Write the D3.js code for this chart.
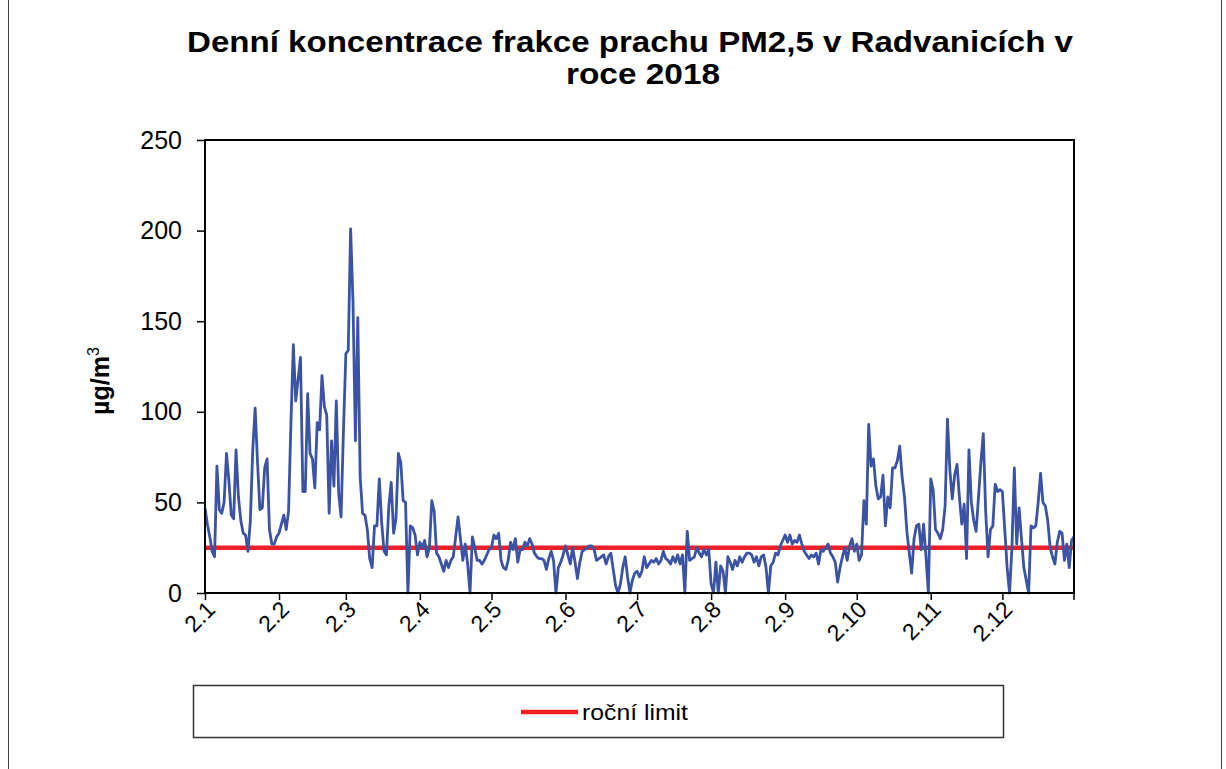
<!DOCTYPE html>
<html>
<head>
<meta charset="utf-8">
<script src="https://cdn.jsdelivr.net/npm/d3@7"></script>
<style>
  body { margin: 0; background: #fff; }
  svg { display: block; }
  text { font-family: "Liberation Sans", Arial, sans-serif; fill: #000; }
</style>
</head>
<body>
<div id="chart"></div>
<script>
// Denní hodnoty PM2,5 (µg/m3) po měsících
const jan = [47, 38, 31, 23, 20, 70, 46, 44, 50, 77, 62, 43, 41, 79, 53, 40, 33, 32, 23, 40, 79, 102, 72, 46, 47, 69, 74, 35, 27, 27, 31];
const feb = [33, 38, 43, 35, 45, 94, 137, 106, 118, 130, 56, 56, 110, 77, 74, 58, 94, 90, 120, 103, 98, 44, 84, 59, 106, 55, 42, 90];
const mar = [132, 134, 201, 160, 84, 152, 64, 44, 43, 35, 19, 14, 37, 37, 63, 39, 23, 21, 48, 61, 33, 41, 77, 72, 51, 50, 0, 37, 36, 32, 21];
const apr = [28, 25, 29, 20, 25, 51, 45, 22, 20, 16, 12, 18, 14, 18, 20, 31, 42, 30, 18, 27, 16, 0, 31, 25, 18, 18, 16, 18, 21, 24];
const may = [25, 32, 30, 33, 18, 14, 13, 18, 28, 24, 30, 17, 24, 24, 28, 26, 30, 27, 22, 20, 19, 19, 18, 13, 19, 23, 18, 0, 14, 17, 21];
const jun = [26, 21, 16, 25, 17, 8, 17, 23, 24, 25, 26, 26, 24, 18, 19, 20, 21, 16, 20, 22, 13, 4, 0, 5, 14, 20, 9, 0, 7, 11];
const jul = [12, 9, 12, 20, 14, 16, 18, 17, 19, 16, 18, 23, 19, 18, 16, 20, 17, 21, 16, 21, 0, 34, 18, 19, 20, 25, 22, 20, 24, 21, 24];
const aug = [5, 0, 17, 0, 15, 12, 0, 20, 17, 13, 18, 15, 20, 17, 20, 22, 22, 21, 17, 20, 15, 20, 21, 14, 0, 15, 17, 22, 21, 26, 29];
const sep = [32, 28, 32, 27, 29, 28, 32, 27, 23, 21, 19, 21, 20, 22, 16, 24, 23, 25, 27, 22, 20, 17, 6, 14, 20, 25, 18, 26, 30, 23];
const oct = [27, 18, 21, 51, 38, 93, 70, 74, 59, 52, 53, 65, 37, 53, 47, 69, 69, 73, 81, 64, 53, 34, 22, 11, 30, 37, 38, 24, 38, 20, 0];
const nov = [63, 57, 35, 33, 30, 35, 48, 96, 68, 52, 65, 71, 53, 38, 49, 19, 79, 50, 40, 34, 53, 72, 88, 45, 20, 35, 37, 60, 56, 57];
const dec = [56, 35, 14, 0, 25, 69, 27, 47, 30, 14, 7, 0, 37, 36, 37, 50, 66, 50, 48, 40, 25, 20, 16, 28, 34, 33, 18, 27, 14, 29, 31];

const monthLabels = ['2.1', '2.2', '2.3', '2.4', '2.5', '2.6', '2.7', '2.8', '2.9', '2.10', '2.11', '2.12'];
const yTicks = [0, 50, 100, 150, 200, 250];
const limitValue = 25;
const titleLines = ['Denní koncentrace frakce prachu PM2,5 v Radvanicích v', 'roce 2018'];
const legendLabel = 'roční limit';

const months = [jan, feb, mar, apr, may, jun, jul, aug, sep, oct, nov, dec];
const values = months.flat();

// začátky měsíců (index dne)
const monthStarts = [];
let acc = 0;
months.forEach(m => { monthStarts.push(acc); acc += m.length; });

const W = 1226, H = 769;
const plot = { left: 205, right: 1074, top: 140, bottom: 593 };

const svg = d3.select('#chart').append('svg')
    .attr('width', W)
    .attr('height', H);

// vnější rámeček
svg.append('line').attr('x1', 8.5).attr('x2', 8.5).attr('y1', 0).attr('y2', H)
    .attr('stroke', '#444').attr('stroke-width', 1);
svg.append('line').attr('x1', 1221.5).attr('x2', 1221.5).attr('y1', 0).attr('y2', H)
    .attr('stroke', '#444').attr('stroke-width', 1);

// titulek (v originále je písmo vodorovně roztažené)
svg.append('text')
    .attr('x', 187).attr('y', 52)
    .attr('textLength', 886)
    .attr('lengthAdjust', 'spacingAndGlyphs')
    .style('font-size', '29px').style('font-weight', 'bold')
    .text(titleLines[0]);
svg.append('text')
    .attr('x', 566).attr('y', 84)
    .attr('textLength', 154)
    .attr('lengthAdjust', 'spacingAndGlyphs')
    .style('font-size', '29px').style('font-weight', 'bold')
    .text(titleLines[1]);

const x = d3.scaleLinear()
    .domain([0, values.length - 1])
    .range([plot.left, plot.right]);

const y = d3.scaleLinear()
    .domain([0, 250])
    .range([plot.bottom, plot.top]);

// osa Y
const yAxis = svg.append('g')
    .attr('transform', `translate(${plot.left},0)`)
    .call(d3.axisLeft(y).tickValues(yTicks).tickSize(8).tickPadding(15));
yAxis.select('.domain').remove();
yAxis.selectAll('line').attr('stroke', '#000').attr('stroke-width', 1.5);
yAxis.selectAll('text')
    .style('font-size', '25px')
    .style('font-family', '"Liberation Sans", Arial, sans-serif');

// popisek osy Y
const yTitle = svg.append('text')
    .attr('transform', 'translate(109,381) rotate(-90)')
    .attr('text-anchor', 'middle')
    .style('font-size', '25px').style('font-weight', 'bold');
yTitle.append('tspan').text('µg/m');
yTitle.append('tspan').attr('dy', -10).style('font-size', '16px').style('font-weight', 'normal').text('3');

// osa X
const xAxis = svg.append('g')
    .attr('transform', `translate(0,${plot.bottom})`)
    .call(d3.axisBottom(x)
        .tickValues(monthStarts)
        .tickSize(7)
        .tickFormat((d, i) => monthLabels[i]));
xAxis.select('.domain').remove();
xAxis.selectAll('line').attr('stroke', '#000').attr('stroke-width', 1.5);
xAxis.selectAll('text')
    .attr('y', 0).attr('dy', 0)
    .attr('text-anchor', 'end')
    .attr('transform', 'translate(11,18) rotate(-45)')
    .style('font-size', '23px')
    .style('font-family', '"Liberation Sans", Arial, sans-serif');
// koncový tick na pravém okraji
svg.append('line')
    .attr('x1', x(values.length - 1)).attr('x2', x(values.length - 1))
    .attr('y1', plot.bottom).attr('y2', plot.bottom + 7)
    .attr('stroke', '#000').attr('stroke-width', 1.5);

// limit
svg.append('line')
    .attr('x1', x(0)).attr('x2', x(values.length - 1))
    .attr('y1', y(limitValue)).attr('y2', y(limitValue))
    .attr('stroke', '#ed2027').attr('stroke-width', 4.5);

// denní průběh
const line = d3.line()
    .x((d, i) => x(i))
    .y(d => y(d));

svg.append('path')
    .datum(values)
    .attr('fill', 'none')
    .attr('stroke', '#3a53a4')
    .attr('stroke-width', 2.8)
    .attr('stroke-linejoin', 'round')
    .attr('d', line);

// rámeček grafu
svg.append('rect')
    .attr('x', plot.left).attr('y', plot.top)
    .attr('width', plot.right - plot.left)
    .attr('height', plot.bottom - plot.top)
    .attr('fill', 'none')
    .attr('stroke', '#000')
    .attr('stroke-width', 2);

// legenda
const legend = svg.append('g');
legend.append('rect')
    .attr('x', 193.5).attr('y', 685.5)
    .attr('width', 810).attr('height', 52)
    .attr('fill', '#fff')
    .attr('stroke', '#333').attr('stroke-width', 1.5);
legend.append('line')
    .attr('x1', 521).attr('x2', 578)
    .attr('y1', 712).attr('y2', 712)
    .attr('stroke', '#ed2027').attr('stroke-width', 4.5);
legend.append('text')
    .attr('x', 582).attr('y', 720)
    .attr('textLength', 106)
    .attr('lengthAdjust', 'spacingAndGlyphs')
    .style('font-size', '22px')
    .text(legendLabel);
</script>
</body>
</html>
